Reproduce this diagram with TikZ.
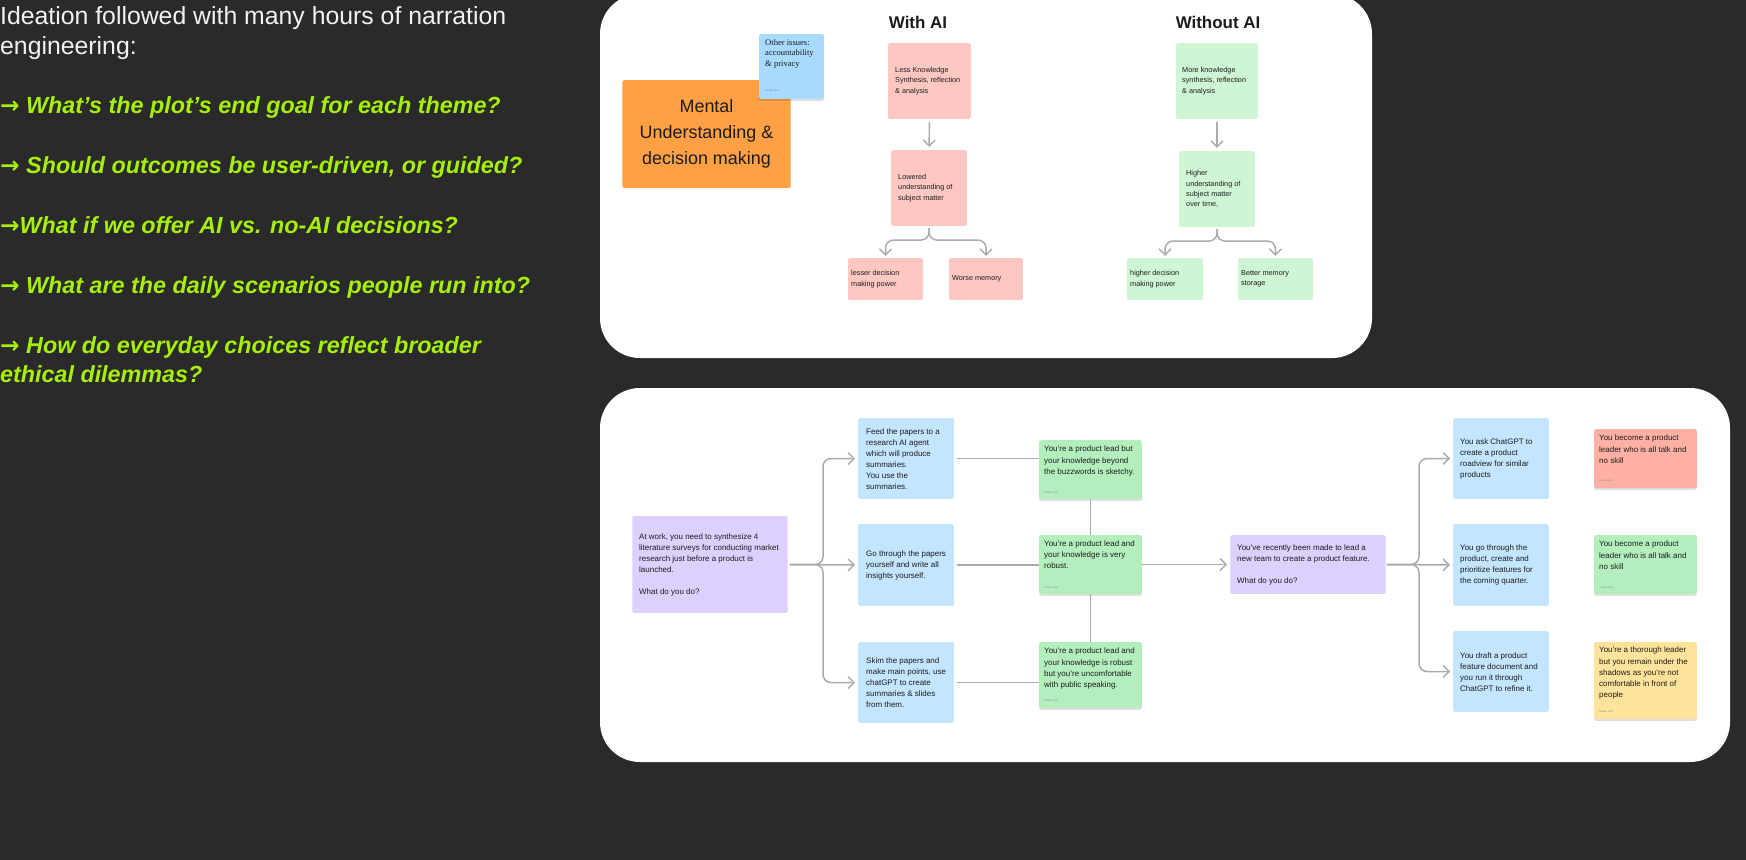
\documentclass[tikz,border=0pt]{standalone}
\usepackage{fontspec}
\setmainfont{Liberation Sans}
\newfontfamily\notefont{Liberation Serif}
\newfontfamily\arrowfont{DejaVu Sans}
\usetikzlibrary{arrows.meta,shadows}
\definecolor{bgc}{HTML}{2A2A2A}
\definecolor{limec}{HTML}{A6EF0A}
\definecolor{whitetxt}{HTML}{F2F2F2}
\definecolor{orangec}{HTML}{FFA045}
\definecolor{skyc}{HTML}{A8D9FF}
\definecolor{pinkc}{HTML}{FFC7C2}
\definecolor{mintc}{HTML}{CFF6D4}
\definecolor{lilac}{HTML}{DDD0FF}
\definecolor{bluec}{HTML}{C3E5FF}
\definecolor{greenc}{HTML}{B3EFBD}
\definecolor{redc}{HTML}{FFB0A4}
\definecolor{yellowc}{HTML}{FFE39A}
\definecolor{linec}{HTML}{ABABAB}
\definecolor{darktxt}{HTML}{1C1C1C}
\newcommand\myfs[2]{\fontsize{#1}{#2}\selectfont}
\newcommand\arr{{\arrowfont\bfseries\upshape →}}
\begin{document}
\begin{tikzpicture}[x=1bp,y=-1bp,
  box/.style={rectangle, rounded corners=1.5, inner sep=0pt, draw=none},
  sticky/.style={box, drop shadow={shadow xshift=0pt, shadow yshift=-2pt, opacity=0.13, fill=black}},
  txt/.style={inner sep=0pt, align=left, text=darktxt},
  toptxt/.style={txt, anchor=west, font=\myfs{7.3}{10.3}},
  bottxt/.style={txt, font=\myfs{8}{11.1}},
  foot/.style={inner sep=0pt, anchor=west, text=black!45, font=\myfs{2.6}{3}},
  plain/.style={draw=linec, line width=1.5pt},
  conn/.style={plain, -{Straight Barb[length=6pt, width=12pt, line width=1.4pt]}},
  lefttxt/.style={inner sep=0pt, anchor=base west},
  green/.style={lefttxt, text=limec, font=\myfs{23.4}{29}\bfseries\itshape}
]
\fill[bgc] (0,0) rectangle (1746,860);
\useasboundingbox (0,0) rectangle (1746,860);

% ---------- left text ----------
\node[lefttxt, text=whitetxt, font=\myfs{24.9}{30}] (l1) at (0,24) {Ideation followed with many hours of narration};
\node[lefttxt, text=whitetxt, font=\myfs{24.9}{30}] (l2) at (0,54) {engineering:};
\node[green] (q1) at (0,113) {\arr{} What’s the plot’s end goal for each theme?};
\node[green] (q2) at (0,173) {\arr{} Should outcomes be user-driven, or guided?};
\node[green] (q3) at (0,233) {\arr{}What if we offer AI vs. no-AI decisions?};
\node[green] (q4) at (0,293) {\arr{} What are the daily scenarios people run into?};
\node[green] (q5) at (0,353) {\arr{} How do everyday choices reflect broader};
\node[green] (q6) at (0,382) {ethical dilemmas?};

% ---------- panels ----------
\fill[white, rounded corners=40] (600,-6) rectangle (1372,358);
\fill[white, rounded corners=40] (600,388) rectangle (1730,762);

% ---------- top panel ----------
\node[box, fill=orangec, minimum width=169, minimum height=108] (mental) at (706.5,134) {};
\node[txt, align=center, font=\myfs{18}{26}] (mentalt) at (mental) {Mental\\Understanding \&\\decision making};

\node[sticky, fill=skyc, minimum width=65, minimum height=65] (other) at (791.5,66.5) {};
\node[txt, anchor=north west, font=\notefont\myfs{8.6}{10.5}] (othert) at (765,39) {Other issues:\\accountability\\\& privacy};
\node[foot] (otherf) at (765,91) {Swathi Jose};

\node[inner sep=0pt, font=\myfs{17}{20}\bfseries, text=darktxt] (withai) at (918,22) {With AI};
\node[inner sep=0pt, font=\myfs{17}{20}\bfseries, text=darktxt] (withoutai) at (1218,22) {Without AI};

\node[box, fill=pinkc, minimum width=83, minimum height=76] (pk1) at (929.5,81) {};
\node[toptxt] (pk1t) at (895,81) {Less Knowledge\\Synthesis, reflection\\\& analysis};
\node[box, fill=pinkc, minimum width=76, minimum height=76] (pk2) at (929,188) {};
\node[toptxt] (pk2t) at (898,188) {Lowered\\understanding of\\subject matter};
\node[box, fill=pinkc, minimum width=75, minimum height=42] (pk3) at (885.5,279) {};
\node[toptxt] (pk3t) at (851,279) {lesser decision\\making power};
\node[box, fill=pinkc, minimum width=74, minimum height=42] (pk4) at (986,279) {};
\node[toptxt] (pk4t) at (952,279) {Worse memory};

\node[box, fill=mintc, minimum width=82, minimum height=76] (gr1) at (1217,81) {};
\node[toptxt] (gr1t) at (1182,81) {More knowledge\\synthesis, reflection\\\& analysis};
\node[box, fill=mintc, minimum width=76, minimum height=76] (gr2) at (1217,189) {};
\node[toptxt] (gr2t) at (1186,189) {Higher\\understanding of\\subject matter\\over time,};
\node[box, fill=mintc, minimum width=76, minimum height=42] (gr3) at (1165,279) {};
\node[toptxt] (gr3t) at (1130,279) {higher decision\\making power};
\node[box, fill=mintc, minimum width=75, minimum height=42] (gr4) at (1275.5,279) {};
\node[toptxt] (gr4t) at (1241,279) {Better memory\\storage};

\draw[conn, shorten <=3pt, shorten >=3pt] (pk1) -- (pk2);
\draw[conn, shorten <=2pt, shorten >=2pt, rounded corners=8] (pk2.south) -- ++(0,14) -| (pk3.north);
\draw[conn, shorten <=2pt, shorten >=2pt, rounded corners=8] (pk2.south) -- ++(0,14) -| (pk4.north);
\draw[conn, shorten <=3pt, shorten >=3pt] (gr1) -- (gr2);
\draw[conn, shorten <=2pt, shorten >=2pt, rounded corners=8] (gr2.south) -- ++(0,14) -| (gr3.north);
\draw[conn, shorten <=2pt, shorten >=2pt, rounded corners=8] (gr2.south) -- ++(0,14) -| (gr4.north);

% ---------- bottom panel ----------
\node[box, fill=lilac, minimum width=156, minimum height=97] (p1) at (710,564.5) {};
\node[bottxt, anchor=west] (p1t) at (639,565) {At work, you need to synthesize 4\\literature surveys for conducting market\\research just before a product is\\launched.\\[11pt]What do you do?};

\node[box, fill=bluec, minimum width=96, minimum height=81] (b1) at (906,458.5) {};
\node[bottxt, anchor=west] (b1t) at (866,459) {Feed the papers to a\\research AI agent\\which will produce\\summaries.\\You use the\\summaries.};
\node[box, fill=bluec, minimum width=96, minimum height=82] (b2) at (906,565) {};
\node[bottxt, anchor=west] (b2t) at (866,565) {Go through the papers\\yourself and write all\\insights yourself.};
\node[box, fill=bluec, minimum width=96, minimum height=81] (b3) at (906,682.5) {};
\node[bottxt, anchor=west] (b3t) at (866,683) {Skim the papers and\\make main points, use\\chatGPT to create\\summaries \& slides\\from them.};

\node[sticky, fill=greenc, minimum width=103, minimum height=59] (g1) at (1090.5,469.5) {};
\node[bottxt, anchor=north west] (g1t) at (1044,446) {You’re a product lead but\\your knowledge beyond\\the buzzwords is sketchy.};
\node[foot] (g1f) at (1044,493) {Swathi Jose};
\node[sticky, fill=greenc, minimum width=103, minimum height=59] (g2) at (1090.5,564.5) {};
\node[bottxt, anchor=north west] (g2t) at (1044,540.5) {You’re a product lead and\\your knowledge is very\\robust.};
\node[foot] (g2f) at (1044,588) {Swathi Jose};
\node[sticky, fill=greenc, minimum width=103, minimum height=66] (g3) at (1090.5,675) {};
\node[bottxt, anchor=north west] (g3t) at (1044,648) {You’re a product lead and\\your knowledge is robust\\but you’re uncomfortable\\with public speaking.};
\node[foot] (g3f) at (1044,701) {Swathi Jose};

\node[box, fill=lilac, minimum width=156, minimum height=59] (p2) at (1308,564.5) {};
\node[bottxt, anchor=west] (p2t) at (1237,565) {You’ve recently been made to lead a\\new team to create a product feature.\\[11pt]What do you do?};

\node[box, fill=bluec, minimum width=96, minimum height=81] (rb1) at (1501,458.5) {};
\node[bottxt, anchor=west] (rb1t) at (1460,459) {You ask ChatGPT to\\create a product\\roadview for similar\\products};
\node[box, fill=bluec, minimum width=96, minimum height=82] (rb2) at (1501,565) {};
\node[bottxt, anchor=west] (rb2t) at (1460,565) {You go through the\\product, create and\\prioritize features for\\the coming quarter.};
\node[box, fill=bluec, minimum width=96, minimum height=81] (rb3) at (1501,671.5) {};
\node[bottxt, anchor=west] (rb3t) at (1460,672) {You draft a product\\feature document and\\you run it through\\ChatGPT to refine it.};

\node[sticky, fill=redc, minimum width=103, minimum height=59] (o1) at (1645.5,458.5) {};
\node[bottxt, anchor=north west] (o1t) at (1599,435) {You become a product\\leader who is all talk and\\no skill};
\node[foot] (o1f) at (1599,481) {Swathi Jose};
\node[sticky, fill=greenc, minimum width=103, minimum height=59] (o2) at (1645.5,564.5) {};
\node[bottxt, anchor=north west] (o2t) at (1599,541) {You become a product\\leader who is all talk and\\no skill};
\node[foot] (o2f) at (1599,588) {Swathi Jose};
\node[sticky, fill=yellowc, minimum width=103, minimum height=77] (o3) at (1645.5,680.5) {};
\node[bottxt, anchor=north west] (o3t) at (1599,647) {You’re a thorough leader\\but you remain under the\\shadows as you’re not\\comfortable in front of\\people};
\node[foot] (o3f) at (1599,712) {Swathi Jose};

% connectors bottom
\coordinate (s1) at (823,564.5);
\draw[conn, shorten <=2pt, shorten >=3pt, rounded corners=8] (p1.east) -- (s1) |- (b1.west);
\draw[conn, shorten <=2pt, shorten >=3pt] (p1.east) -- (b2.west);
\draw[conn, shorten <=2pt, shorten >=3pt, rounded corners=8] (p1.east) -- (s1) |- (b3.west);

\draw[plain, shorten <=3pt] (b1.east) -- (b1.east -| g1.west);
\draw[plain, shorten <=3pt] (b2.east) -- (b2.east -| g2.west);
\draw[plain, shorten <=3pt] (b3.east) -- (b3.east -| g3.west);
\draw[plain] (g1.south) -- (g2.north);
\draw[plain] (g2.south) -- (g3.north);
\draw[conn, shorten >=3pt] (g2.east) -- (p2.west);

\coordinate (s2) at (1419,564.5);
\draw[conn, shorten <=1pt, shorten >=3pt, rounded corners=8] (p2.east) -- (s2) |- (rb1.west);
\draw[conn, shorten <=1pt, shorten >=3pt] (p2.east) -- (rb2.west);
\draw[conn, shorten <=1pt, shorten >=3pt, rounded corners=8] (p2.east) -- (s2) |- (rb3.west);
\end{tikzpicture}
\end{document}
